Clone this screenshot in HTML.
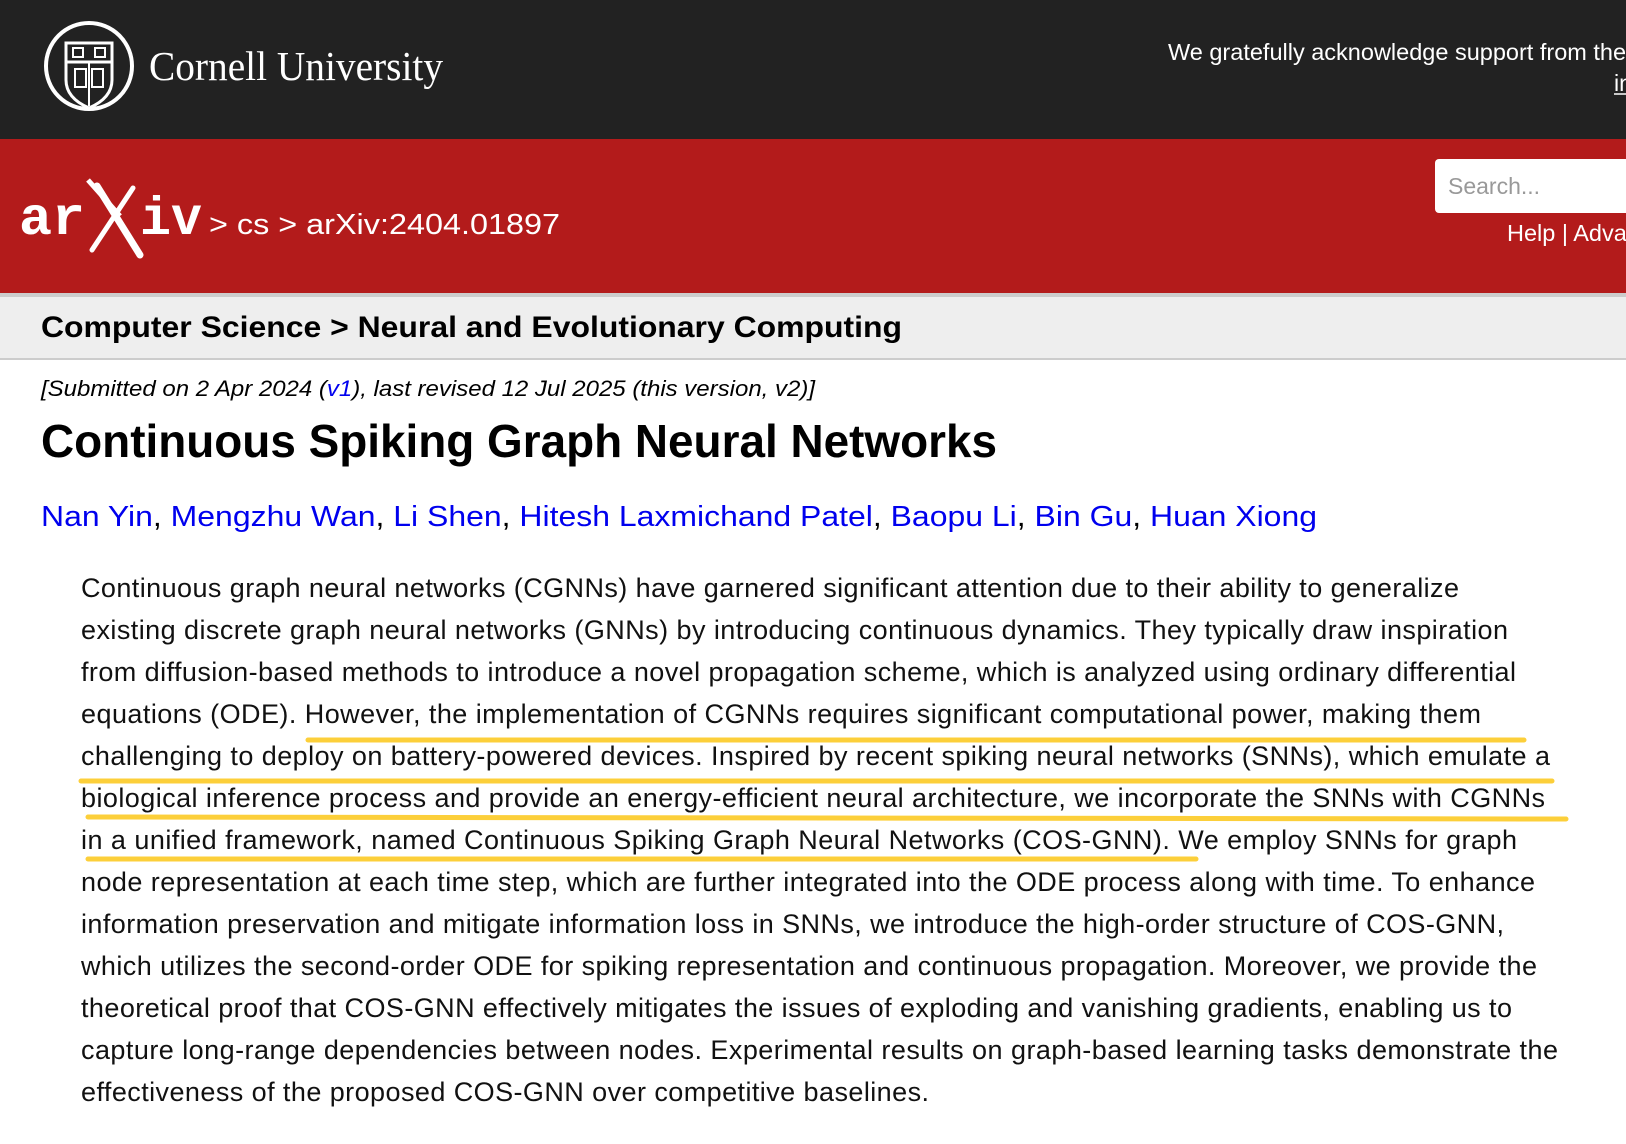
<!DOCTYPE html>
<html><head><meta charset="utf-8"><style>
html,body{margin:0;padding:0;background:#fff;}
svg{display:block}
</style></head><body>
<svg width="1626" height="1144" viewBox="0 0 1626 1144" xmlns="http://www.w3.org/2000/svg" font-family="Liberation Sans, sans-serif">
<rect x="0" y="0" width="1626" height="139" fill="#222"/>
<rect x="0" y="139" width="1626" height="154" fill="#b31b1b"/>
<rect x="0" y="293" width="1626" height="4" fill="#ccc"/>
<rect x="0" y="297" width="1626" height="61" fill="#eee"/>
<rect x="0" y="358" width="1626" height="2" fill="#ccc"/>
<!-- Cornell seal -->
<circle cx="89" cy="66" r="43" fill="none" stroke="#fff" stroke-width="4"/>
<path d="M66 43 H112 V80 Q112 98 89 108 Q66 98 66 80 Z" fill="none" stroke="#fff" stroke-width="3"/>
<line x1="66" y1="62" x2="112" y2="62" stroke="#fff" stroke-width="3"/>
<line x1="89" y1="62" x2="89" y2="106" stroke="#fff" stroke-width="2"/>
<rect x="73" y="48" width="10" height="9" fill="none" stroke="#fff" stroke-width="2"/>
<rect x="95" y="48" width="10" height="9" fill="none" stroke="#fff" stroke-width="2"/>
<rect x="75" y="69" width="11" height="18" fill="none" stroke="#fff" stroke-width="2"/>
<rect x="92" y="69" width="11" height="18" fill="none" stroke="#fff" stroke-width="2"/>
<text x="149" y="80" fill="#fff" font-family="Liberation Serif, serif" font-size="41" textLength="294" lengthAdjust="spacingAndGlyphs">Cornell University</text>
<text x="1168" y="60" fill="#fff" font-size="23.5">We gratefully acknowledge support from the Simons Foundation</text>
<text x="1614" y="91" fill="#fff" font-size="23">in</text>
<line x1="1614" y1="94" x2="1640" y2="94" stroke="#fff" stroke-width="1.5"/>
<!-- arXiv logo -->
<text x="19" y="234" fill="#fff" font-family="Liberation Mono, monospace" font-size="54" font-weight="bold" textLength="66" lengthAdjust="spacingAndGlyphs">ar</text>
<text x="140" y="234" fill="#fff" font-family="Liberation Mono, monospace" font-size="54" font-weight="bold" textLength="62" lengthAdjust="spacingAndGlyphs">iv</text>
<line x1="97" y1="186" x2="140" y2="255" stroke="#fff" stroke-width="7" stroke-linecap="round"/>
<line x1="88" y1="180" x2="120" y2="216" stroke="#fff" stroke-width="5" fill="none"/>
<line x1="133" y1="188" x2="92" y2="250" stroke="#fff" stroke-width="5" stroke-linecap="round"/>
<text x="209" y="234" fill="#fff" font-size="29" textLength="351" lengthAdjust="spacingAndGlyphs">&gt; cs &gt; arXiv:2404.01897</text>
<rect x="1435" y="159" width="200" height="54" rx="4" fill="#fff"/>
<text x="1448" y="194" fill="#999" font-size="23">Search...</text>
<text x="1507" y="241" fill="#fff" font-size="23.5">Help | Advanced Search</text>
<!-- breadcrumb -->
<text x="41" y="337" fill="#000" font-size="30" font-weight="bold" textLength="861" lengthAdjust="spacingAndGlyphs">Computer Science &gt; Neural and Evolutionary Computing</text>
<text x="41" y="396" fill="#000" font-size="22" font-style="italic" textLength="774" lengthAdjust="spacingAndGlyphs">[Submitted on 2 Apr 2024 (<tspan fill="#0000ee">v1</tspan>), last revised 12 Jul 2025 (this version, v2)]</text>
<text x="41" y="457" fill="#000" font-size="46" font-weight="bold" textLength="956" lengthAdjust="spacingAndGlyphs">Continuous Spiking Graph Neural Networks</text>
<text x="41" y="526" fill="#0000ee" font-size="29" textLength="1276" lengthAdjust="spacingAndGlyphs">Nan Yin<tspan fill="#000">, </tspan>Mengzhu Wan<tspan fill="#000">, </tspan>Li Shen<tspan fill="#000">, </tspan>Hitesh Laxmichand Patel<tspan fill="#000">, </tspan>Baopu Li<tspan fill="#000">, </tspan>Bin Gu<tspan fill="#000">, </tspan>Huan Xiong</text>
<!-- highlights -->
<g stroke="#fccf3a" stroke-width="5" stroke-linecap="round">
<line x1="308" y1="740" x2="1524" y2="740"/>
<line x1="81" y1="781" x2="1552" y2="781"/>
<line x1="88" y1="817" x2="1566" y2="819"/>
<line x1="88" y1="859" x2="1196" y2="859"/>
</g>
<g fill="#111" font-size="27" lengthAdjust="spacingAndGlyphs">
<text x="81" y="597" textLength="1378">Continuous graph neural networks (CGNNs) have garnered significant attention due to their ability to generalize</text>
<text x="81" y="639" textLength="1427">existing discrete graph neural networks (GNNs) by introducing continuous dynamics. They typically draw inspiration</text>
<text x="81" y="681" textLength="1435">from diffusion-based methods to introduce a novel propagation scheme, which is analyzed using ordinary differential</text>
<text x="81" y="723" textLength="1400">equations (ODE). However, the implementation of CGNNs requires significant computational power, making them</text>
<text x="81" y="765" textLength="1469">challenging to deploy on battery-powered devices. Inspired by recent spiking neural networks (SNNs), which emulate a</text>
<text x="81" y="807" textLength="1464">biological inference process and provide an energy-efficient neural architecture, we incorporate the SNNs with CGNNs</text>
<text x="81" y="849" textLength="1436">in a unified framework, named Continuous Spiking Graph Neural Networks (COS-GNN). We employ SNNs for graph</text>
<text x="81" y="891" textLength="1454">node representation at each time step, which are further integrated into the ODE process along with time. To enhance</text>
<text x="81" y="933" textLength="1423">information preservation and mitigate information loss in SNNs, we introduce the high-order structure of COS-GNN,</text>
<text x="81" y="975" textLength="1456">which utilizes the second-order ODE for spiking representation and continuous propagation. Moreover, we provide the</text>
<text x="81" y="1017" textLength="1431">theoretical proof that COS-GNN effectively mitigates the issues of exploding and vanishing gradients, enabling us to</text>
<text x="81" y="1059" textLength="1477">capture long-range dependencies between nodes. Experimental results on graph-based learning tasks demonstrate the</text>
<text x="81" y="1101" textLength="848">effectiveness of the proposed COS-GNN over competitive baselines.</text>
</g>
</svg>
</body></html>
